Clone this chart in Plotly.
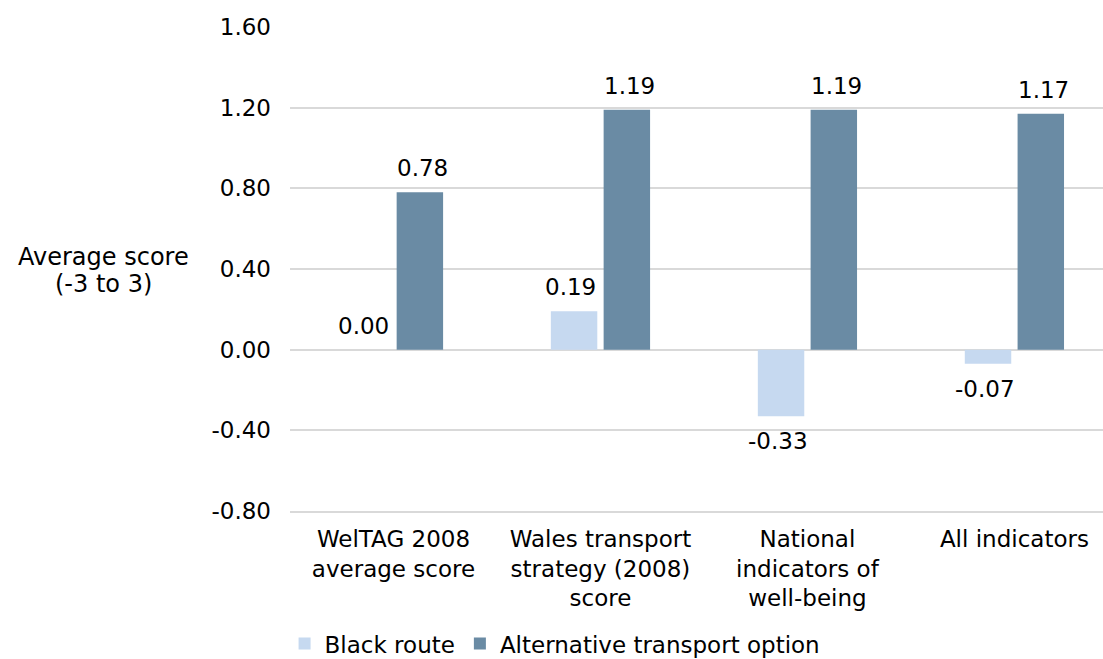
import plotly.graph_objects as go

# Category labels (line breaks as drawn under the axis)
categories = [
    "WelTAG 2008<br>average score",
    "Wales transport<br>strategy (2008)<br>score",
    "National<br>indicators of<br>well-being",
    "All indicators",
]
series_names = ["Black route", "Alternative transport option"]
black_route = [0.00, 0.19, -0.33, -0.07]
alternative = [0.78, 1.19, 1.19, 1.17]
y_ticks = [-0.8, -0.4, 0.0, 0.4, 0.8, 1.2, 1.6]
y_tick_labels = ["-0.80", "-0.40", "0.00", "0.40", "0.80", "1.20", "1.60"]
y_title_lines = ["Average score", "(-3 to 3)"]

colors = ["#c6d9f0", "#6a8ba4"]
FONT = "DejaVu Sans"
FS = 23
W, H = 1103, 659

fig = go.Figure()
for name, vals, col in zip(series_names, [black_route, alternative], colors):
    fig.add_trace(go.Bar(
        x=categories, y=vals, name=name,
        marker=dict(color=col, line=dict(width=0)),
    ))

# value labels, offset above/below each bar
offsets = [-0.1425, 0.1425]
for vals, off in zip([black_route, alternative], offsets):
    for i, v in enumerate(vals):
        fig.add_annotation(
            x=i + off, y=v, xref="x", yref="y",
            text=f"{v:.2f}", showarrow=False,
            yanchor="middle", xanchor="center",
            yshift=-25 if v < 0 else 24,
            font=dict(family=FONT, size=FS, color="#000000"),
        )

# horizontal axis title block at the left, one annotation per line
for line, yp in zip(y_title_lines, [0.525, 0.468]):
    fig.add_annotation(
        x=-0.23, y=yp, xref="paper", yref="paper",
        text=line, showarrow=False,
        xanchor="center", yanchor="middle", align="center",
        font=dict(family=FONT, size=24, color="#000000"),
    )

fig.update_layout(
    width=W, height=H,
    margin=dict(l=290, r=0, t=27, b=148, autoexpand=False),
    paper_bgcolor="white", plot_bgcolor="white",
    barmode="group", bargap=0.49, bargroupgap=0.12,
    font=dict(family=FONT, size=FS, color="#000000"),
    showlegend=True,
    legend=dict(
        orientation="h", xref="container", yref="container",
        x=0.258, y=0.056, xanchor="left", yanchor="top",
        font=dict(family=FONT, size=FS), itemwidth=30,
        traceorder="normal",
    ),
    xaxis=dict(
        type="category", range=[-0.5, 3.428], automargin=False,
        showgrid=False, showline=True, linecolor="#d9d9d9", linewidth=2,
        ticks="", tickfont=dict(family=FONT, size=FS),
        ticklabelstandoff=6,
    ),
    yaxis=dict(
        range=[-0.8, 1.6], tickvals=y_ticks, ticktext=y_tick_labels,
        automargin=False,
        showgrid=True, gridcolor="#d9d9d9", gridwidth=2,
        zeroline=True, zerolinecolor="#d9d9d9", zerolinewidth=2,
        showline=False, ticks="", ticklabelstandoff=18,
        tickfont=dict(family=FONT, size=FS),
    ),
)

fig.write_html("out.html")
